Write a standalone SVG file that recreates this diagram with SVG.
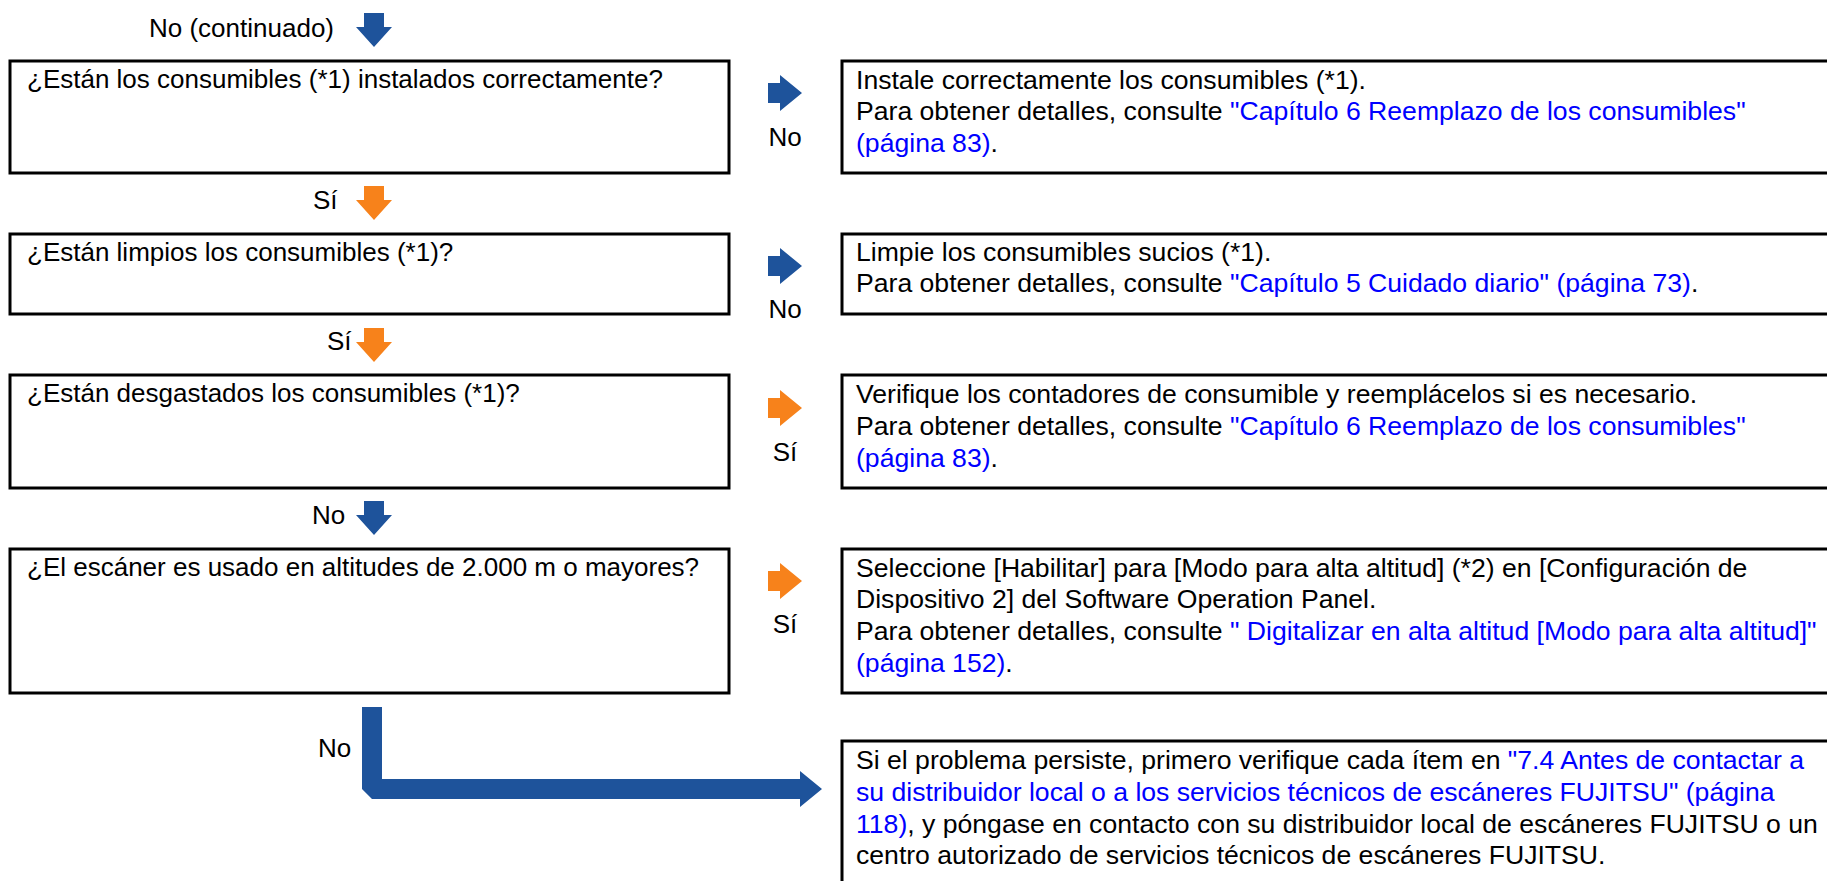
<svg xmlns="http://www.w3.org/2000/svg" width="1827" height="881" viewBox="0 0 1827 881">
<defs>
<style>
text{font-family:"Liberation Sans",Arial,sans-serif;font-size:26px;fill:#000}
.r text{font-size:26.6px}
.lk{fill:#0000FF}
.box{fill:#fff;stroke:#000;stroke-width:3}
.blue{fill:#1E539B}
.orange{fill:#F7821B}
</style>
<path id="da" d="M-10,0 H10 V14 H18 L0,34 L-18,14 H-10 Z"/>
<path id="ra" d="M0,-10 V10 H12 V18 L34,0 L12,-18 V-10 Z"/>
</defs>
<rect width="1827" height="881" fill="#fff"/>

<g id="connectors">
<use href="#da" x="374" y="13" class="blue"/>
<use href="#da" x="374" y="186" class="orange"/>
<use href="#da" x="374" y="328" class="orange"/>
<use href="#da" x="374" y="501" class="blue"/>
<use href="#ra" x="768" y="93" class="blue"/>
<use href="#ra" x="768" y="266" class="blue"/>
<use href="#ra" x="768" y="408" class="orange"/>
<use href="#ra" x="768" y="581" class="orange"/>
<path class="blue" d="M362,707 H382 V779 H800 V771 L822,789 L800,807 V799 H372 L362,789 Z"/>
<text x="149" y="37">No (continuado)</text>
<text x="313" y="209">Sí</text>
<text x="327" y="350">Sí</text>
<text x="312" y="524">No</text>
<text x="785" y="146" text-anchor="middle">No</text>
<text x="785" y="318" text-anchor="middle">No</text>
<text x="785" y="461" text-anchor="middle">Sí</text>
<text x="785" y="633" text-anchor="middle">Sí</text>
<text x="318" y="757">No</text>
</g>

<g id="q1">
<rect class="box" x="10" y="61" width="719" height="112"/>
<text x="27" y="88">¿Están los consumibles (*1) instalados correctamente?</text>
</g>
<g id="a1" class="r">
<rect class="box" x="842" y="61" width="1000" height="112"/>
<text x="856" y="89">Instale correctamente los consumibles (*1).</text>
<text x="856" y="120">Para obtener detalles, consulte <tspan class="lk">"Capítulo 6 Reemplazo de los consumibles"</tspan></text>
<text x="856" y="152"><tspan class="lk">(página 83)</tspan>.</text>
</g>

<g id="q2">
<rect class="box" x="10" y="234" width="719" height="80"/>
<text x="27" y="261">¿Están limpios los consumibles (*1)?</text>
</g>
<g id="a2" class="r">
<rect class="box" x="842" y="234" width="1000" height="80"/>
<text x="856" y="261">Limpie los consumibles sucios (*1).</text>
<text x="856" y="292">Para obtener detalles, consulte <tspan class="lk">"Capítulo 5 Cuidado diario" (página 73)</tspan>.</text>
</g>

<g id="q3">
<rect class="box" x="10" y="375" width="719" height="113"/>
<text x="27" y="402">¿Están desgastados los consumibles (*1)?</text>
</g>
<g id="a3" class="r">
<rect class="box" x="842" y="375" width="1000" height="113"/>
<text x="856" y="403">Verifique los contadores de consumible y reemplácelos si es necesario.</text>
<text x="856" y="435">Para obtener detalles, consulte <tspan class="lk">"Capítulo 6 Reemplazo de los consumibles"</tspan></text>
<text x="856" y="467"><tspan class="lk">(página 83)</tspan>.</text>
</g>

<g id="q4">
<rect class="box" x="10" y="549" width="719" height="144"/>
<text x="27" y="576">¿El escáner es usado en altitudes de 2.000 m o mayores?</text>
</g>
<g id="a4" class="r">
<rect class="box" x="842" y="549" width="1000" height="144"/>
<text x="856" y="577">Seleccione [Habilitar] para [Modo para alta altitud] (*2) en [Configuración de</text>
<text x="856" y="608">Dispositivo 2] del Software Operation Panel.</text>
<text x="856" y="640">Para obtener detalles, consulte <tspan class="lk">" Digitalizar en alta altitud [Modo para alta altitud]"</tspan></text>
<text x="856" y="672"><tspan class="lk">(página 152)</tspan>.</text>
</g>

<g id="a5" class="r">
<rect class="box" x="842" y="741" width="1000" height="160"/>
<text x="856" y="769">Si el problema persiste, primero verifique cada ítem en <tspan class="lk">"7.4 Antes de contactar a</tspan></text>
<text x="856" y="801" class="lk">su distribuidor local o a los servicios técnicos de escáneres FUJITSU" (página</text>
<text x="856" y="833"><tspan class="lk">118)</tspan>, y póngase en contacto con su distribuidor local de escáneres FUJITSU o un</text>
<text x="856" y="864">centro autorizado de servicios técnicos de escáneres FUJITSU.</text>
</g>
</svg>
